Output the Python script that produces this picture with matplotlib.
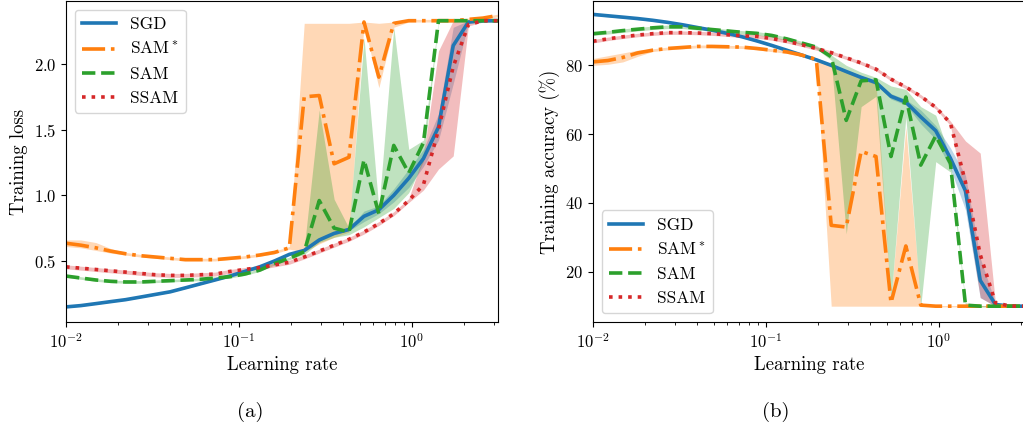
import matplotlib
matplotlib.use("Agg")
import matplotlib.pyplot as plt

plt.rcParams['font.family'] = ['cmr10', 'DejaVu Serif']
plt.rcParams['mathtext.fontset'] = 'cm'
plt.rcParams['axes.formatter.use_mathtext'] = True
plt.rcParams['axes.unicode_minus'] = False

# learning rates
lr = [0.01, 0.0122, 0.0149, 0.0181, 0.0221, 0.0270, 0.0329, 0.0401, 0.0490, 0.0597,
      0.0728, 0.0887, 0.108, 0.132, 0.161, 0.196, 0.239, 0.292, 0.356, 0.434,
      0.530, 0.646, 0.788, 0.962, 1.17, 1.43, 1.74, 2.13, 2.59, 3.16]

labels = ['SGD', 'SAM$^*$', 'SAM', 'SSAM']

# ---- training loss ----
sgd_loss = [0.15, 0.16, 0.175, 0.19, 0.205, 0.225, 0.245, 0.265, 0.295, 0.325,
            0.355, 0.385, 0.42, 0.455, 0.50, 0.55, 0.58, 0.66, 0.71, 0.74,
            0.84, 0.89, 1.00, 1.13, 1.28, 1.52, 2.14, 2.32, 2.33, 2.33]
sgd_loss_lo = [0.145, 0.155, 0.17, 0.185, 0.2, 0.22, 0.24, 0.26, 0.29, 0.32,
               0.35, 0.38, 0.415, 0.45, 0.495, 0.545, 0.575, 0.65, 0.70, 0.73,
               0.80, 0.86, 0.95, 1.06, 1.22, 1.42, 1.85, 2.31, 2.32, 2.32]
sgd_loss_hi = [0.155, 0.165, 0.18, 0.195, 0.21, 0.23, 0.25, 0.27, 0.30, 0.33,
               0.36, 0.39, 0.425, 0.46, 0.505, 0.555, 0.585, 0.67, 0.72, 0.75,
               0.88, 0.92, 1.05, 1.20, 1.35, 1.62, 2.28, 2.33, 2.34, 2.34]

samstar_loss = [0.635, 0.62, 0.60, 0.575, 0.555, 0.54, 0.53, 0.52, 0.51, 0.51,
                0.51, 0.52, 0.53, 0.545, 0.565, 0.60, 1.75, 1.76, 1.24, 1.29,
                2.32, 1.90, 2.31, 2.33, 2.33, 2.33, 2.33, 2.34, 2.35, 2.37]
samstar_loss_lo = [0.61, 0.60, 0.58, 0.56, 0.545, 0.53, 0.52, 0.51, 0.50, 0.50,
                   0.50, 0.51, 0.52, 0.535, 0.555, 0.59, 0.57, 0.63, 0.68, 0.72,
                   2.30, 1.82, 2.28, 2.32, 2.32, 2.32, 2.32, 2.33, 2.34, 2.36]
samstar_loss_hi = [0.66, 0.66, 0.64, 0.595, 0.565, 0.55, 0.54, 0.53, 0.52, 0.52,
                   0.52, 0.53, 0.54, 0.555, 0.575, 0.61, 2.31, 2.31, 2.31, 2.31,
                   2.32, 2.31, 2.32, 2.34, 2.34, 2.34, 2.34, 2.35, 2.36, 2.38]

sam_loss = [0.385, 0.37, 0.355, 0.345, 0.34, 0.34, 0.345, 0.35, 0.355, 0.36,
            0.37, 0.38, 0.40, 0.43, 0.48, 0.52, 0.57, 0.96, 0.75, 0.72,
            1.27, 0.86, 1.38, 1.17, 1.40, 2.33, 2.33, 2.33, 2.33, 2.33]
sam_loss_lo = [0.375, 0.36, 0.345, 0.335, 0.33, 0.33, 0.335, 0.34, 0.345, 0.35,
               0.36, 0.37, 0.39, 0.42, 0.47, 0.51, 0.55, 0.64, 0.68, 0.70,
               0.76, 0.83, 0.90, 1.02, 1.26, 2.32, 2.32, 2.32, 2.32, 2.32]
sam_loss_hi = [0.395, 0.38, 0.365, 0.355, 0.35, 0.35, 0.355, 0.36, 0.365, 0.37,
               0.38, 0.39, 0.41, 0.44, 0.49, 0.53, 0.60, 1.65, 0.97, 0.75,
               2.20, 0.90, 2.28, 1.35, 1.42, 2.34, 2.34, 2.34, 2.34, 2.34]

ssam_loss = [0.455, 0.445, 0.435, 0.425, 0.415, 0.405, 0.395, 0.39, 0.39, 0.395,
             0.40, 0.42, 0.435, 0.45, 0.47, 0.49, 0.53, 0.575, 0.62, 0.665,
             0.72, 0.785, 0.86, 0.96, 1.08, 1.50, 1.98, 2.30, 2.33, 2.33]
ssam_loss_lo = [0.44, 0.43, 0.42, 0.41, 0.40, 0.39, 0.38, 0.375, 0.375, 0.38,
                0.385, 0.405, 0.42, 0.435, 0.455, 0.475, 0.515, 0.56, 0.605, 0.65,
                0.705, 0.77, 0.845, 0.945, 1.04, 1.20, 1.30, 2.29, 2.32, 2.32]
ssam_loss_hi = [0.47, 0.46, 0.45, 0.44, 0.43, 0.42, 0.41, 0.405, 0.405, 0.41,
                0.415, 0.435, 0.45, 0.465, 0.485, 0.505, 0.545, 0.59, 0.635, 0.68,
                0.735, 0.80, 0.875, 0.975, 1.30, 2.10, 2.33, 2.33, 2.34, 2.34]

# ---- training accuracy (%) ----
sgd_acc = [94.8, 94.4, 94.0, 93.6, 93.1, 92.5, 91.8, 91.0, 90.2, 89.3,
           88.3, 87.1, 85.8, 84.4, 83.0, 81.6, 80.0, 78.2, 76.5, 75.0,
           71.0, 69.3, 65.0, 61.0, 53.0, 43.5, 17.5, 10.5, 10.0, 10.0]
sgd_acc_lo = [94.5, 94.1, 93.7, 93.3, 92.8, 92.2, 91.5, 90.7, 89.9, 89.0,
              88.0, 86.8, 85.5, 84.1, 82.7, 81.3, 79.6, 77.8, 76.0, 74.4,
              70.2, 68.5, 63.0, 58.5, 50.0, 38.0, 12.5, 10.0, 9.8, 9.8]
sgd_acc_hi = [95.1, 94.7, 94.3, 93.9, 93.4, 92.8, 92.1, 91.3, 90.5, 89.6,
              88.6, 87.4, 86.1, 84.7, 83.3, 81.9, 80.4, 78.6, 77.0, 75.6,
              71.8, 70.1, 67.0, 62.5, 56.0, 48.0, 24.0, 11.0, 10.2, 10.2]

samstar_acc = [81.0, 81.4, 82.3, 83.6, 84.4, 84.9, 85.2, 85.5, 85.5, 85.4,
               85.3, 84.9, 84.4, 83.9, 83.0, 81.7, 33.5, 33.0, 55.0, 53.5,
               11.0, 27.5, 10.3, 10.0, 10.0, 10.0, 10.0, 10.0, 10.0, 10.0]
samstar_acc_lo = [80.0, 80.3, 81.0, 82.6, 84.0, 84.5, 84.8, 85.1, 85.1, 85.0,
                  84.9, 84.5, 84.0, 83.5, 82.6, 81.2, 10.0, 10.0, 10.0, 10.0,
                  10.0, 10.0, 10.0, 9.8, 9.8, 9.8, 9.8, 9.8, 9.8, 9.8]
samstar_acc_hi = [82.0, 82.8, 83.6, 84.4, 84.8, 85.3, 85.6, 85.9, 85.9, 85.8,
                  85.7, 85.3, 84.8, 84.3, 83.4, 82.2, 80.5, 78.5, 76.5, 75.0,
                  12.0, 62.0, 10.8, 10.2, 10.2, 10.2, 10.2, 10.2, 10.2, 10.2]

sam_acc = [89.2, 89.6, 90.1, 90.5, 90.9, 91.2, 91.2, 90.8, 90.4, 90.0,
           89.6, 89.3, 88.7, 87.7, 86.5, 85.3, 82.5, 64.0, 75.5, 75.8,
           53.5, 70.8, 51.0, 59.5, 51.5, 10.3, 10.0, 10.0, 10.0, 10.0]
sam_acc_lo = [88.7, 89.1, 89.6, 90.0, 90.4, 90.7, 90.7, 90.3, 89.9, 89.5,
              89.1, 88.8, 88.2, 87.2, 86.0, 84.8, 81.5, 31.0, 68.0, 71.0,
              12.0, 65.0, 10.0, 52.0, 49.0, 10.0, 9.8, 9.8, 9.8, 9.8]
sam_acc_hi = [89.7, 90.1, 90.6, 91.0, 91.4, 91.7, 91.7, 91.3, 90.9, 90.5,
              90.1, 89.8, 89.2, 88.2, 87.0, 85.8, 83.0, 80.0, 78.0, 76.5,
              74.0, 73.0, 68.0, 65.5, 53.0, 11.0, 10.2, 10.2, 10.2, 10.2]

ssam_acc = [87.0, 87.7, 88.3, 88.8, 89.2, 89.5, 89.5, 89.4, 89.2, 88.9,
            88.6, 88.4, 87.8, 87.0, 86.0, 84.9, 83.7, 82.2, 80.7, 78.9,
            76.0, 73.7, 71.0, 67.8, 63.2, 46.0, 25.0, 11.0, 10.0, 10.0]
ssam_acc_lo = [86.5, 87.2, 87.8, 88.3, 88.7, 89.0, 89.0, 88.9, 88.7, 88.4,
               88.1, 87.9, 87.3, 86.5, 85.5, 84.4, 83.2, 81.7, 80.2, 78.4,
               75.5, 73.2, 70.5, 67.3, 62.5, 40.0, 12.5, 10.0, 9.8, 9.8]
ssam_acc_hi = [87.5, 88.2, 88.8, 89.3, 89.7, 90.0, 90.0, 89.9, 89.7, 89.4,
               89.1, 88.9, 88.3, 87.5, 86.5, 85.4, 84.2, 82.7, 81.2, 79.4,
               76.5, 74.2, 71.5, 68.3, 63.8, 58.0, 54.5, 11.0, 10.2, 10.2]

colors = ['tab:blue', 'tab:orange', 'tab:green', 'tab:red']
styles = ['-', '-.', '--', ':']

loss_series = [(sgd_loss, sgd_loss_lo, sgd_loss_hi),
               (samstar_loss, samstar_loss_lo, samstar_loss_hi),
               (sam_loss, sam_loss_lo, sam_loss_hi),
               (ssam_loss, ssam_loss_lo, ssam_loss_hi)]
acc_series = [(sgd_acc, sgd_acc_lo, sgd_acc_hi),
              (samstar_acc, samstar_acc_lo, samstar_acc_hi),
              (sam_acc, sam_acc_lo, sam_acc_hi),
              (ssam_acc, ssam_acc_lo, ssam_acc_hi)]

fig = plt.figure(figsize=(10.23, 4.40), dpi=100)
ax1 = fig.add_axes([66/1023, 118/440, 432/1023, 321/440])
ax2 = fig.add_axes([593/1023, 118/440, 432/1023, 321/440])

for ax, series in [(ax1, loss_series), (ax2, acc_series)]:
    for (m, lo, hi), c, ls, lab in zip(series, colors, styles, labels):
        ax.fill_between(lr, lo, hi, color=c, alpha=0.3, linewidth=0)
        ax.plot(lr, m, color=c, linestyle=ls, linewidth=2.6, label=lab)
    ax.set_xscale('log')
    ax.set_xlim(0.01, 3.16)
    ax.tick_params(labelsize=12)
    ax.set_xlabel('Learning rate', fontsize=13.5)

ax1.set_ylim(0.035, 2.48)
ax1.set_yticks([0.5, 1.0, 1.5, 2.0])
ax1.set_ylabel('Training loss', fontsize=13.5)
ax1.legend(loc='upper left', fontsize=12.5)

ax2.set_ylim(5.4, 98.7)
ax2.set_yticks([20, 40, 60, 80])
ax2.set_ylabel('Training accuracy (%)', fontsize=13.5)
ax2.legend(loc='lower left', fontsize=12.5)

fig.text(250/1023, 1 - 412/440, '(a)', ha='center', va='center', fontsize=15)
fig.text(776/1023, 1 - 412/440, '(b)', ha='center', va='center', fontsize=15)

fig.savefig('out.png', dpi=100)
